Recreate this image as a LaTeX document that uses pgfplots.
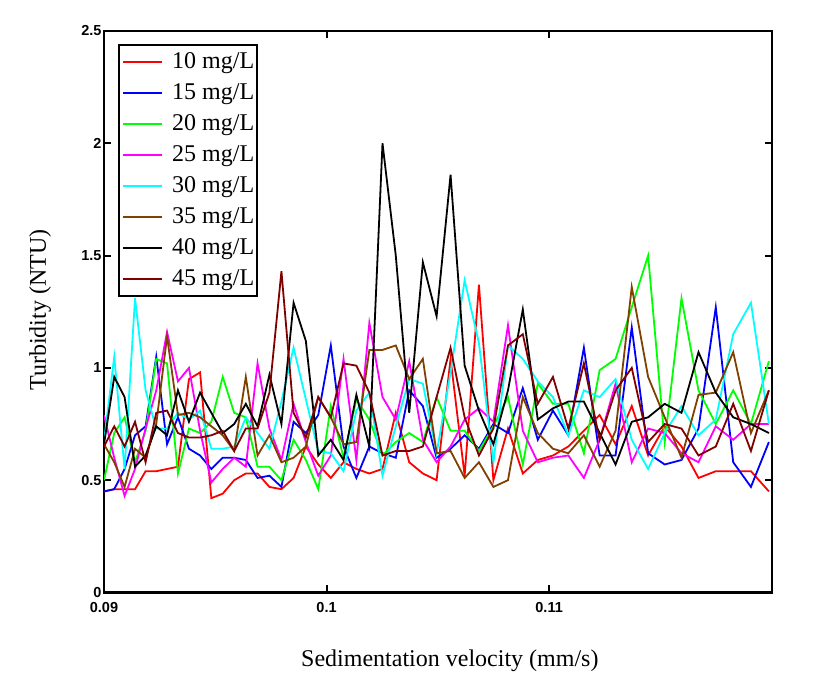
\documentclass[border=0pt]{standalone}
\usepackage{fontspec}
\setmainfont{Liberation Serif}
\newfontfamily\ticksf{Liberation Sans}
\usepackage{pgfplots}
\usepackage{pgfplotstable}
\pgfplotsset{compat=1.18}
\definecolor{cred}{RGB}{255,0,0}
\definecolor{cblue}{RGB}{0,0,255}
\definecolor{cgreen}{RGB}{0,255,0}
\definecolor{cmag}{RGB}{255,0,255}
\definecolor{ccyan}{RGB}{0,255,255}
\definecolor{cbrown}{RGB}{128,64,0}
\definecolor{cmaroon}{RGB}{128,0,0}
\pgfplotstableread{
x c10 c15 c20 c25 c30 c35 c40 c45
0.090000 0.45 0.45 0.50 0.79 0.67 0.66 0.66 0.65
0.090460 0.46 0.46 0.71 0.60 1.05 0.58 0.96 0.74
0.090925 0.46 0.55 0.78 0.43 0.55 0.47 0.87 0.65
0.091394 0.46 0.70 0.58 0.55 1.31 0.64 0.56 0.76
0.091869 0.54 0.74 0.72 0.73 0.90 0.60 0.61 0.58
0.092348 0.54 1.05 1.04 0.90 0.73 0.75 0.74 0.80
0.092833 0.55 0.66 1.02 1.16 0.73 1.14 0.70 0.81
0.093323 0.56 0.78 0.53 0.94 0.80 0.79 0.90 0.71
0.093817 0.95 0.64 0.73 1.00 0.77 0.80 0.76 0.69
0.094317 0.98 0.61 0.71 0.72 0.81 0.78 0.89 0.69
0.094823 0.42 0.55 0.76 0.49 0.64 0.74 0.80 0.70
0.095334 0.44 0.60 0.96 0.55 0.64 0.70 0.71 0.72
0.095850 0.50 0.60 0.80 0.60 0.65 0.63 0.75 0.63
0.096372 0.53 0.59 0.78 0.56 0.78 0.96 0.84 0.73
0.096899 0.53 0.51 0.56 1.02 0.71 0.61 0.74 0.73
0.097433 0.47 0.52 0.56 0.73 0.64 0.70 0.97 0.89
0.097972 0.46 0.47 0.50 0.59 0.85 0.58 0.75 1.43
0.098518 0.51 0.76 0.68 0.84 1.09 0.60 1.29 0.80
0.099069 0.65 0.71 0.59 0.67 0.86 0.65 1.12 0.69
0.099627 0.57 0.79 0.46 0.52 0.63 0.87 0.61 0.87
0.100191 0.51 1.10 0.83 0.61 0.62 0.78 0.68 0.78
0.100762 0.58 0.65 0.60 1.04 0.54 0.66 0.59 1.02
0.101339 0.55 0.51 0.86 0.59 0.81 0.67 0.88 1.01
0.101922 0.53 0.65 0.77 1.20 0.89 1.08 0.65 0.89
0.102513 0.55 0.62 0.61 0.87 0.52 1.08 2.00 0.61
0.103110 0.80 0.60 0.67 0.77 0.74 1.10 1.50 0.63
0.103714 0.58 0.90 0.71 1.03 0.95 0.95 0.80 0.63
0.104326 0.53 0.83 0.67 0.68 0.93 1.04 1.47 0.65
0.104944 0.50 0.60 0.87 0.58 0.62 0.62 1.23 0.87
0.105571 1.04 0.64 0.72 0.65 0.98 0.63 1.86 1.09
0.106204 0.52 0.70 0.72 0.77 1.39 0.51 1.01 0.78
0.106846 1.37 0.64 0.63 0.82 1.11 0.58 0.81 0.61
0.107495 0.50 0.75 0.74 0.76 0.58 0.47 0.66 0.73
0.108151 0.73 0.71 0.87 1.19 1.10 0.50 0.90 1.10
0.108817 0.53 0.91 0.57 0.72 1.04 0.87 1.26 1.15
0.109490 0.59 0.68 0.93 0.58 0.94 0.71 0.77 0.84
0.110171 0.61 0.81 0.84 0.60 0.87 0.64 0.82 0.96
0.110862 0.65 0.70 0.84 0.61 0.70 0.62 0.85 0.73
0.111561 0.72 1.09 0.62 0.51 0.90 0.70 0.85 1.02
0.112269 0.79 0.61 0.99 0.68 0.87 0.56 0.71 0.68
0.112985 0.66 0.61 1.04 0.93 0.95 0.72 0.57 0.90
0.113712 0.83 1.18 1.27 0.58 0.68 1.36 0.76 1.00
0.114447 0.61 0.62 1.50 0.73 0.55 0.96 0.78 0.67
0.115192 0.74 0.57 0.67 0.71 0.71 0.78 0.84 0.75
0.115947 0.65 0.59 1.31 0.62 0.83 0.60 0.80 0.73
0.116711 0.51 0.73 0.90 0.58 0.70 0.88 1.07 0.61
0.117487 0.54 1.27 0.75 0.74 0.77 0.89 0.89 0.65
0.118271 0.54 0.58 0.90 0.68 1.15 1.07 0.78 0.84
0.119067 0.54 0.47 0.75 0.75 1.29 0.71 0.75 0.63
0.119874 0.45 0.67 1.03 0.75 0.75 0.90 0.71 0.90
}\data
\begin{document}
\begin{tikzpicture}
\path[use as bounding box] (0,0) rectangle (814bp,685bp);
\begin{axis}[
  at={(104bp,92.5bp)}, anchor=south west,
  scale only axis, width=667.7bp, height=561.5bp,
  xmin=0.09, xmax=0.12, ymin=0, ymax=2.5,
  xtick={0.09,0.1,0.11}, xticklabels={0.09,0.1,0.11},
  ytick={0,0.5,1,1.5,2,2.5}, yticklabels={0,0.5,1,1.5,2,2.5},
  scaled ticks=false,
  tick align=inside, major tick length=7bp,
  every tick/.style={black, line width=2bp},
  axis line style={line width=2bp},
  ticklabel style={font=\ticksf\bfseries\fontsize{14.5bp}{16bp}\selectfont},
  xticklabel style={yshift=-6bp},
  yticklabel style={xshift=1bp},
  xlabel={Sedimentation velocity (mm/s)},
  ylabel={Turbidity (NTU)},
  label style={font=\fontsize{24bp}{28bp}\selectfont},
  xlabel style={at={(axis description cs:0.518,-0.121)}, anchor=center},
  ylabel style={at={(axis description cs:-0.0958,0.503)}, anchor=center},
  legend style={at={(axis description cs:0.0214,0.9763)}, anchor=north west,
    draw=black, line width=2bp, font=\fontsize{24bp}{28bp}\selectfont,
    inner xsep=3bp, inner ysep=6bp, row sep=9bp,
    nodes={inner sep=0pt, text height=17bp, text depth=5bp},
    cells={anchor=west}},
  legend image code/.code={\draw[#1, line width=2bp] (0bp,0bp) -- (39bp,0bp); \path (48bp,0bp);},
  every axis plot/.append style={line width=1.8bp},
]
\addplot[cred] table[x=x,y=c10] {\data};
\addplot[cblue] table[x=x,y=c15] {\data};
\addplot[cgreen] table[x=x,y=c20] {\data};
\addplot[cmag] table[x=x,y=c25] {\data};
\addplot[ccyan] table[x=x,y=c30] {\data};
\addplot[cbrown] table[x=x,y=c35] {\data};
\addplot[black] table[x=x,y=c40] {\data};
\addplot[cmaroon] table[x=x,y=c45] {\data};
\legend{10 mg/L,15 mg/L,20 mg/L,25 mg/L,30 mg/L,35 mg/L,40 mg/L,45 mg/L}
\end{axis}
\end{tikzpicture}
\end{document}
